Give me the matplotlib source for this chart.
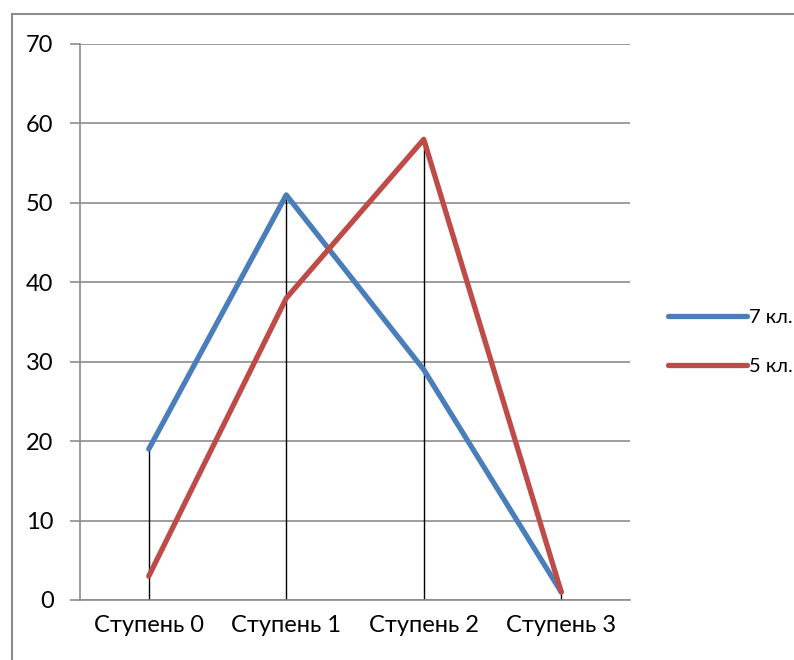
import matplotlib.pyplot as plt
from matplotlib.patches import Rectangle

categories = ['Ступень 0', 'Ступень 1', 'Ступень 2', 'Ступень 3']
grade7 = [19, 51, 29, 1]
grade5 = [3, 38, 58, 1]
series_names = ['7 кл.', '5 кл.']

plt.rcParams['font.family'] = ['Lato', 'DejaVu Sans']

W, H = 794, 660
fig = plt.figure(figsize=(W / 100, H / 100), dpi=100)
ax = fig.add_axes([80 / W, 60 / H, 550 / W, 556 / H])

# chart frame (cut by the right and bottom edges)
fig.patches.append(Rectangle((12 / W, -0.1), 1.2, (H - 14) / H + 0.1,
                             transform=fig.transFigure, fill=False,
                             edgecolor='#8c8c8c', linewidth=1.5, zorder=0))

x = list(range(len(categories)))

# drop lines from the higher point to the axis
for xi, a, b in zip(x, grade7, grade5):
    ax.plot([xi, xi], [0, max(a, b)], color='black', linewidth=1.0, zorder=2)

ax.plot(x, grade7, color='#4a7ebb', linewidth=3.8, solid_capstyle='round',
        label=series_names[0], zorder=3)
ax.plot(x, grade5, color='#be4b48', linewidth=3.8, solid_capstyle='round',
        label=series_names[1], zorder=3)

ax.set_xlim(-0.5, 3.5)
ax.set_ylim(0, 70)
ax.set_yticks(range(0, 71, 10))
ax.set_xticks(x)
ax.set_xticklabels(categories)
ax.yaxis.grid(True, color='#8c8c8c', linewidth=1.2)
ax.set_axisbelow(True)

for side in ['top', 'right']:
    ax.spines[side].set_visible(False)
ax.spines['left'].set_color('#8c8c8c')
ax.spines['bottom'].set_color('#8c8c8c')
ax.spines['left'].set_linewidth(1.2)
ax.spines['bottom'].set_linewidth(1.2)
ax.tick_params(axis='y', length=7, width=1.2, color='#8c8c8c', labelsize=17, pad=12)
ax.tick_params(axis='x', length=0, labelsize=17, pad=11)

leg = fig.legend(loc='center left', bbox_to_anchor=(650 / W, 1 - 342 / H),
                 frameon=False, fontsize=14.5, handlelength=3.9,
                 handletextpad=0.12, labelspacing=1.6)

fig.savefig('out.png', dpi=100)
